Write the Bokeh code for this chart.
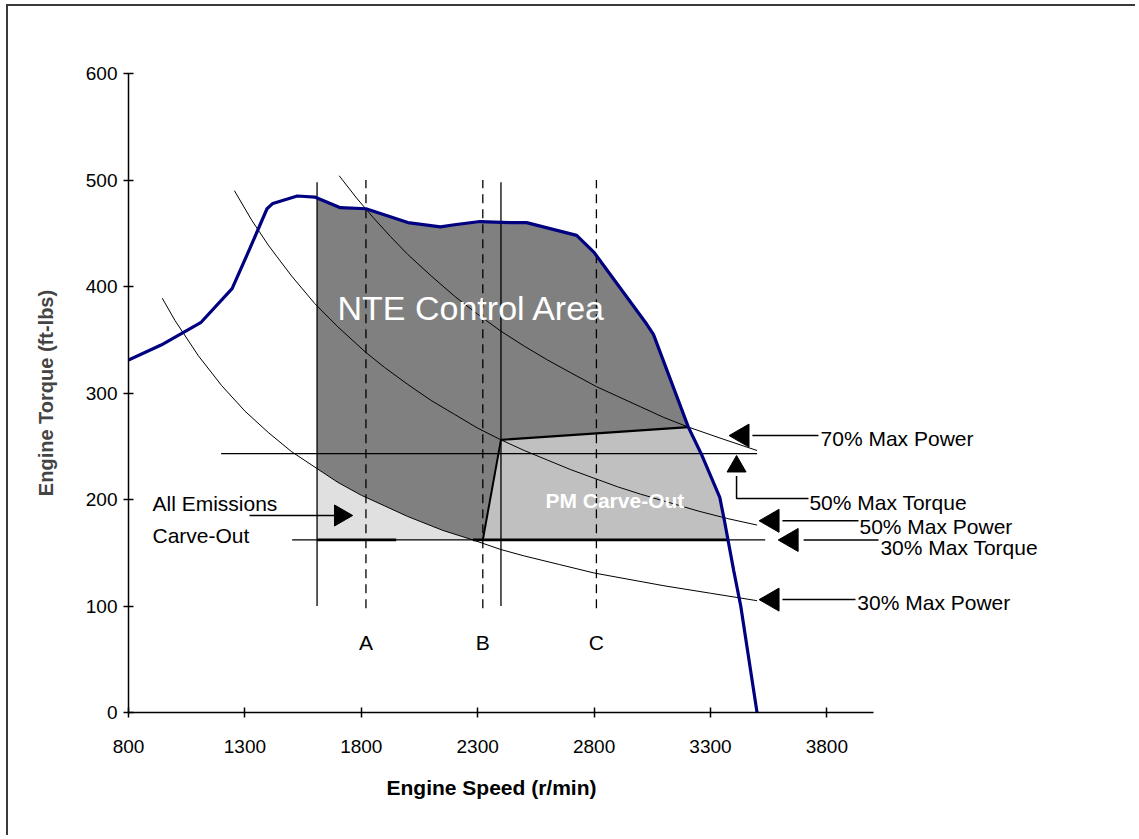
import math
from bokeh.plotting import figure
from bokeh.models import Range1d, FixedTicker, Title
from bokeh.core.properties import value
from bokeh.embed import file_html
from bokeh.resources import INLINE

FONT = "Liberation Sans"

# ---------------- data ----------------
x_ticks = [800, 1300, 1800, 2300, 2800, 3300, 3800]
y_ticks = [0, 100, 200, 300, 400, 500, 600]

torque_rpm = [800, 940, 1110, 1245, 1320, 1395, 1420, 1525, 1600, 1710, 1820, 2000, 2140, 2200,
              2310, 2440, 2510, 2725, 2800, 3025, 3055, 3205, 3260, 3340, 3360, 3400, 3430, 3500]
torque_val = [331, 345, 366, 398, 435, 473, 478, 485, 484, 474, 473, 460, 456, 458,
              461, 460, 460, 448, 432, 365, 355, 268, 243, 202, 180, 133, 100, 0]

p30_rpm = [945, 1000, 1100, 1200, 1300, 1400, 1500, 1610, 1700, 1800, 1900, 2000, 2150, 2280,
           2400, 2500, 2650, 2800, 2950, 3100, 3300, 3500]
p30_val = [389, 368, 335, 307, 283, 263, 245, 229, 216, 204, 194, 184, 171, 162,
           153, 147, 139, 131, 125, 119, 112, 105]

p50_rpm = [1255, 1330, 1400, 1500, 1600, 1700, 1820, 1900, 2000, 2100, 2200, 2300, 2400, 2500,
           2600, 2700, 2800, 2900, 3000, 3125, 3250, 3375, 3500]
p50_val = [490, 462, 439, 410, 384, 362, 338, 324, 308, 293, 280, 267, 256, 246,
           237, 228, 220, 212, 205, 197, 189, 182, 176]

p70_rpm = [1705, 1780, 1850, 1925, 2000, 2100, 2200, 2300, 2400, 2500, 2600, 2700, 2810, 2900,
           3000, 3100, 3205, 3350, 3500]
p70_val = [504, 483, 465, 447, 430, 410, 391, 374, 358, 344, 331, 319, 306, 297,
           287, 277, 268, 257, 246]

solid_rpm = [1610, 2400]          # NTE left edge, PM carve-out left edge
dashed_rpm = [1820, 2322, 2810]   # speeds A, B, C
dashed_names = ["A", "B", "C"]
nte_top_left = 483                # torque curve at 1610 r/min
torque50 = 243                    # 50% max torque
torque30 = 162                    # 30% max torque
p30_meet_rpm = 2280               # 30% power curve meets 30% torque line
pm_top = [(2400, 256), (3205, 268)]
pm_right_rpm = 3375               # torque curve meets 30% torque line

# ---------------- figure ----------------
p = figure(width=1129, height=831, x_range=Range1d(800, 5100), y_range=Range1d(0, 600),
           output_backend="svg", toolbar_location=None,
           min_border_left=120, min_border_right=8, min_border_top=67, min_border_bottom=125)
p.styles = {"margin-left": "6px", "margin-top": "4px",
            "border-left": "2px solid #3a3a3a", "border-top": "2px solid #3a3a3a"}
p.background_fill_color = "white"
p.border_fill_color = "white"
p.outline_line_color = None
p.xgrid.visible = False
p.ygrid.visible = False

for ax, ticks, bnds in ((p.xaxis, x_ticks, (800, 4000)), (p.yaxis, y_ticks, (0, 600))):
    ax.ticker = FixedTicker(ticks=ticks)
    ax.bounds = bnds
    ax.axis_line_color = "black"
    ax.axis_line_width = 1.5
    ax.major_tick_line_color = "black"
    ax.major_tick_line_width = 1.5
    ax.major_tick_in = 5
    ax.major_tick_out = 5
    ax.minor_tick_line_color = None
    ax.major_label_text_font = FONT
    ax.major_label_text_font_size = "19px"
    ax.major_label_text_color = "black"
p.xaxis.major_label_standoff = 22
p.yaxis.major_label_standoff = 6
p.yaxis.axis_label = "Engine Torque (ft-lbs)"
p.yaxis.axis_label_text_font = FONT
p.yaxis.axis_label_text_font_style = "bold"
p.yaxis.axis_label_text_font_size = "20px"
p.yaxis.axis_label_standoff = 26

p.add_layout(Title(text="Engine Speed (r/min)", align="left", offset=258, standoff=37,
                   text_font=FONT, text_font_size="21px", text_font_style="bold",
                   text_color="black"), "below")

# ---------------- filled regions ----------------
seg30 = [(r, t) for r, t in zip(p30_rpm, p30_val) if solid_rpm[0] <= r <= p30_meet_rpm]
top_pts = [(r, t) for r, t in zip(torque_rpm, torque_val) if solid_rpm[0] < r < pm_top[1][0]]
nte = [(solid_rpm[0], nte_top_left)] + top_pts + [pm_top[1], pm_top[0], (dashed_rpm[1], torque30)] \
      + list(reversed(seg30))
p.patch([a for a, b in nte], [b for a, b in nte], fill_color="#808080", line_color=None)

allem = seg30 + [(solid_rpm[0], torque30)]
p.patch([a for a, b in allem], [b for a, b in allem], fill_color="#e0e0e0", line_color=None)

right_pts = [(r, t) for r, t in zip(torque_rpm, torque_val) if pm_top[1][0] < r < pm_right_rpm]
pm = [(dashed_rpm[1], torque30), pm_top[0], pm_top[1]] + right_pts + [(pm_right_rpm, torque30)]
p.patch([a for a, b in pm], [b for a, b in pm], fill_color="#c0c0c0", line_color=None)

# ---------------- reference lines ----------------
p.segment(x0=solid_rpm, x1=solid_rpm, y0=[100] * 2, y1=[498] * 2, line_color="black", line_width=1.3)
p.segment(x0=dashed_rpm, x1=dashed_rpm, y0=[98] * 3, y1=[500] * 3, line_color="black",
          line_width=1.3, line_dash="9 6")
p.line([1198, 3500], [torque50, torque50], line_color="black", line_width=1.3)
p.line([1503, 3535], [torque30, torque30], line_color="black", line_width=1.3)
p.multi_line([[solid_rpm[0], 1950], [p30_meet_rpm, pm_right_rpm]], [[torque30] * 2, [torque30] * 2],
             line_color="black", line_width=2.8)
p.line([pm_top[0][0], pm_top[1][0]], [pm_top[0][1], pm_top[1][1]], line_color="black", line_width=2.2)
p.line([dashed_rpm[1], pm_top[0][0]], [torque30, pm_top[0][1]], line_color="black", line_width=2)

for xs, ys in ((p30_rpm, p30_val), (p50_rpm, p50_val), (p70_rpm, p70_val)):
    p.line(xs, ys, line_color="black", line_width=1)

p.line(torque_rpm, torque_val, line_color="#000080", line_width=3.2)

# ---------------- arrows ----------------
left_arrow_x = [3437, 3566, 3648, 3566]
left_arrow_y = [260, 180, 162, 106]
left_line_x0 = [3480, 3609, 3700, 3609]
left_line_x1 = [3764, 3936, 4022, 3923]
p.segment(x0=left_line_x0, x1=left_line_x1, y0=left_arrow_y, y1=left_arrow_y, line_color="black", line_width=1.5)
p.scatter(left_arrow_x, left_arrow_y, marker="triangle", size=23, angle=math.pi / 2,
          fill_color="black", line_color="black")

up_x, up_y = 3412, 231
p.line([up_x, up_x, 3721], [222, 201, 201], line_color="black", line_width=1.5)
p.scatter([up_x], [up_y], marker="triangle", size=19, fill_color="black", line_color="black")

p.line([1320, 1690], [185, 185], line_color="black", line_width=1.5)
p.scatter([1711], [185], marker="triangle", size=21, angle=-math.pi / 2,
          fill_color="black", line_color="black")

# ---------------- texts ----------------
ann_x = [3773, 3725, 3940, 4030, 3931, 903, 903]
ann_y = [257, 197, 175, 155, 103, 196, 166]
ann_t = ["70% Max Power", "50% Max Torque", "50% Max Power", "30% Max Torque", "30% Max Power",
         "All Emissions", "Carve-Out"]
p.text(ann_x, ann_y, text=ann_t, text_font=value(FONT), text_font_size="21px",
       text_baseline="alphabetic", text_align="left", text_color="black")

p.text(dashed_rpm, [66] * 3, text=dashed_names, text_font=value(FONT), text_font_size="21px",
       text_baseline="alphabetic", text_align="center", text_color="black")

p.text([1698], [380], text=["NTE Control Area"], text_font=value(FONT), text_font_size="34px",
       text_baseline="alphabetic", text_align="left", text_color="white")
p.text([2591], [199], text=["PM Carve-Out"], text_font=value(FONT), text_font_size="21px",
       text_font_style="bold", text_baseline="alphabetic", text_align="left", text_color="white")

open("out.html", "w").write(file_html(p, INLINE))
